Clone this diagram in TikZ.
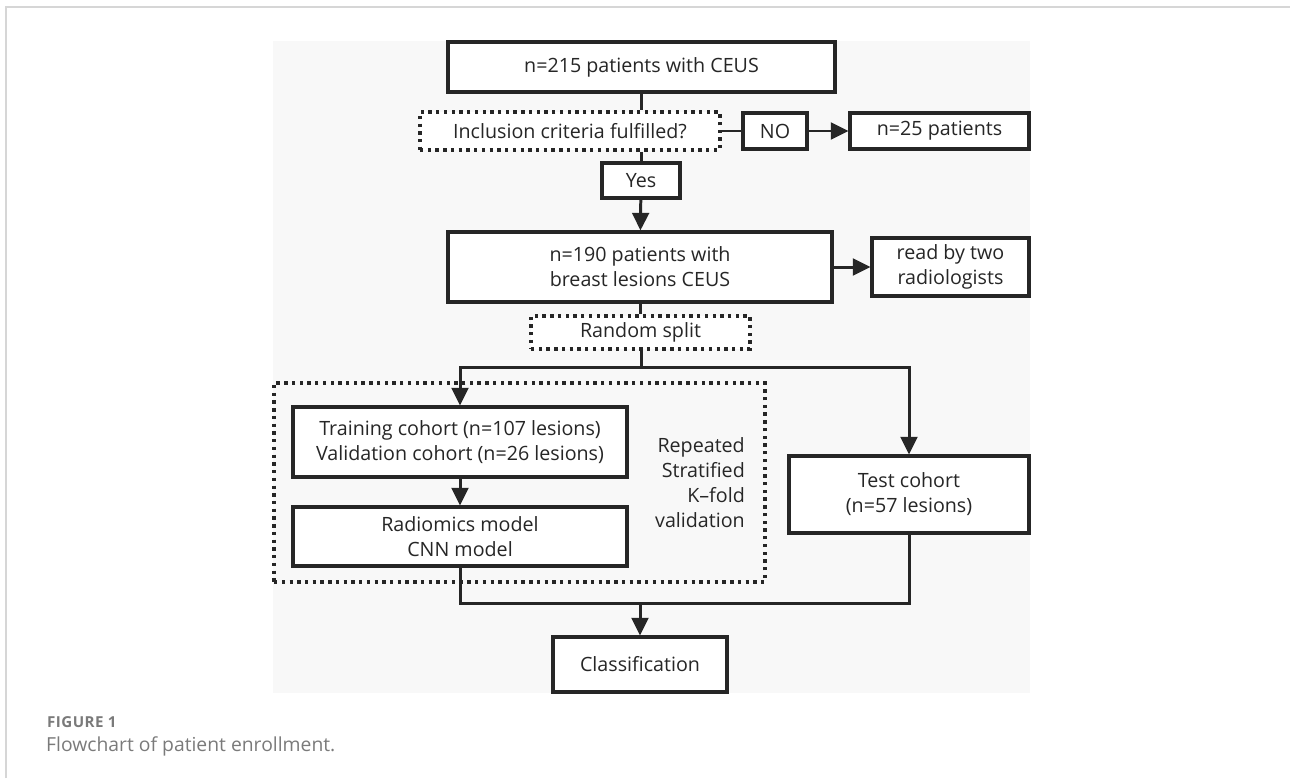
\documentclass[tikz,border=0pt]{standalone}
\usepackage{fontspec}
\setmainfont{Open Sans}
\usetikzlibrary{arrows.meta}
\definecolor{linegray}{HTML}{262626}
\definecolor{textgray}{HTML}{262626}
\definecolor{panelgray}{HTML}{F8F8F8}
\definecolor{rulegray}{HTML}{D6D6D6}
\definecolor{capgray}{HTML}{7A7A7A}

\begin{document}
\begin{tikzpicture}[x=0.02cm,y=-0.02cm]
	\tikzset{
	box/.style 	= {draw=linegray, line width=1.8pt, fill=white, text=textgray,
			   font=\fontsize{11.2}{14.2}\selectfont, align=center, inner sep=0pt},
	dbox/.style 	= {box, line width=2pt, dash pattern=on 1.9pt off 2.5pt},
	ln/.style 	= {draw=linegray, line width=1.7pt},
	arr/.style 	= {ln, -{Triangle[length=10pt,width=9.5pt]}}
	}
	
	\useasboundingbox (0,0) rectangle (1290,778);
	\draw[rulegray, line width=1pt] (6,778) -- (6,7) -- (1290,7);
	\fill[panelgray] (273,41) rectangle (1030,693);
	
	
	\node[box, minimum width=7.74cm, minimum height=1.0cm] (all) at (641.5,67) {n=215 patients with CEUS};
	\node[dbox, minimum width=6.0cm, minimum height=0.76cm] (incl) at (570,131) {Inclusion criteria fulfilled?};
	\node[box, minimum width=1.28cm, minimum height=0.72cm] (no) at (775,131) {NO};
	\node[box, minimum width=3.58cm, minimum height=0.72cm] (excl) at (939.5,131) {n=25 patients};
	\node[box, minimum width=1.56cm, minimum height=0.7cm] (yes) at (641,180.5) {Yes};
	
	\node[box, minimum width=7.68cm, minimum height=1.4cm] (breast) at (640,267) {n=190 patients with\\breast lesions CEUS};
	\node[box, minimum width=3.14cm, minimum height=1.16cm] (read) at (950.5,267) {read by two\\radiologists};
	\node[dbox, minimum width=4.38cm, minimum height=0.66cm] (split) at (640.5,332.5) {Random split};
	
	\node[dbox, fill=none, minimum width=9.82cm, minimum height=3.98cm] (cv) at (519.5,482.5) {};
	\node[box, minimum width=6.68cm, minimum height=1.4cm] (train) at (460,442) {Training cohort (n=107 lesions)\\Validation cohort (n=26 lesions)};
	\node[box, minimum width=6.68cm, minimum height=1.18cm] (model) at (460,536.5) {Radiomics model\\CNN model};
	\node[anchor=east, align=right, text=textgray, font=\fontsize{11.2}{14.2}\selectfont] (kfold) at (751,483) {Repeated\\Stratified\\K–fold\\validation};
	
	\node[box, minimum width=4.8cm, minimum height=1.54cm] (test) at (909,494.5) {Test cohort\\(n=57 lesions)};
	\node[box, minimum width=3.48cm, minimum height=1.1cm] (cls) at (640,664.5) {Classification};
	
	\coordinate (fork) at (641,367);
	\coordinate (join) at (640,603);
	
	\draw[ln] (all.south -| yes) -- (incl.north -| yes);
	\draw[ln] (incl) -- (no);
	\draw[arr] (no) -- (excl);
	\draw[ln] (incl.south -| yes) -- (yes);
	\draw[arr] (yes) -- (breast);
	\draw[arr] (breast) -- (read);
	\draw[ln] (breast.south -| split) -- (split);
	
	\draw[ln] (split.south -| fork) -- (fork);
	\draw[arr] (fork) -| (train);
	\draw[arr] (fork) -| (test);
	\draw[arr] (train) -- (model);
	
	\draw[ln] (model) |- (join);
	\draw[ln] (test) |- (join);
	\draw[arr] (join) -- (cls);
	
	\node[anchor=base west, text=capgray, font=\fontsize{8.6}{10}\selectfont\bfseries\addfontfeatures{LetterSpace=3}] (fig) at (41,727) {FIGURE 1};
	\node[anchor=base west, text=capgray, font=\fontsize{11}{13}\selectfont] (caption) at (40,751) {Flowchart of patient enrollment.};
	
	
\end{tikzpicture}
\end{document}
